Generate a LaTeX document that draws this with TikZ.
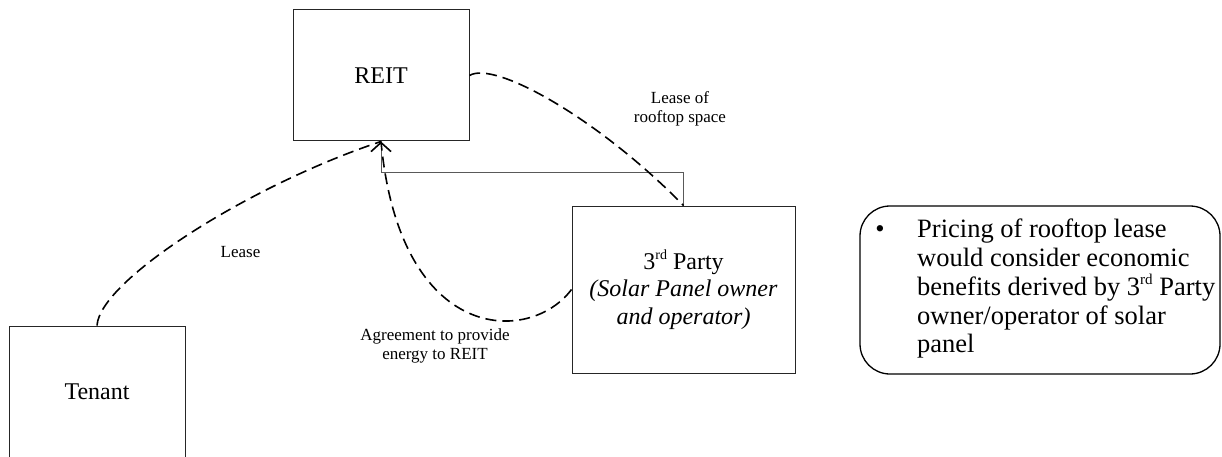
\documentclass[tikz,border=0pt]{standalone}
\usepackage{fontspec}
\setmainfont{Liberation Serif}
\usetikzlibrary{arrows.meta}
\newcommand{\ordsup}[2]{\raisebox{0.42em}{\fontsize{#1}{#1}\selectfont #2}}
\begin{document}
\begin{tikzpicture}[x=1pt,y=-1pt,
  entity/.style={draw=black!85, line width=1pt, rectangle, inner sep=0pt,
    font=\fontsize{24}{27.5}\selectfont, align=center},
  dashlink/.style={draw=black, line width=1.6pt, dash pattern=on 11pt off 6pt},
  solidlink/.style={draw=black!65, line width=1pt},
  lbl/.style={font=\fontsize{17}{19.5}\selectfont, align=center, inner sep=0pt},
  note/.style={draw=black, line width=1.3pt, rounded corners=30pt, inner sep=0pt}]
\useasboundingbox (0,0) rectangle (1222,457);

\node[entity, minimum width=176pt, minimum height=131pt] (reit) at (381,75.5) {REIT};
\node[entity, minimum width=176pt, minimum height=131pt] (tenant) at (97,391.5) {Tenant};
\node[entity, minimum width=223pt, minimum height=167pt] (party) at (683.5,289.5)
  {3\ordsup{14}{rd} Party\\\textit{(Solar Panel owner}\\\textit{and operator)}};

\node[note, minimum width=360pt, minimum height=168pt] (notebox) at (1040,290) {};
\node[anchor=base, inner sep=0pt, font=\fontsize{26.5}{28.75}\selectfont] (bullet) at (880,237) {\textbullet};
\node[anchor=north west, inner sep=0pt, align=left, font=\fontsize{26.5}{28.75}\selectfont] (pricing) at (917,219)
  {Pricing of rooftop lease\\would consider economic\\benefits derived by 3\ordsup{15}{rd} Party\\owner/operator of solar\\panel};

\draw[solidlink, -{Straight Barb[length=9pt, width=20pt, line width=1.6pt, color=black]}]
  (party.north) -- ++(0,-33) -| (reit.south);

\draw[dashlink] (reit.east) .. controls (495,60) and (600,120) .. (party.north);
\draw[dashlink] (tenant.north) .. controls (100,280) and (250,185) .. (reit.south);
\draw[dashlink] (party.west) .. controls (530,345) and (400,345) .. (reit.south);

\node[lbl] (leaselbl) at (240.5,252) {Lease};
\node[lbl] (rooflbl) at (680,109) {Lease of\\rooftop space};
\node[lbl] (agreelbl) at (435,346) {Agreement to provide\\energy to REIT};
\end{tikzpicture}
\end{document}
